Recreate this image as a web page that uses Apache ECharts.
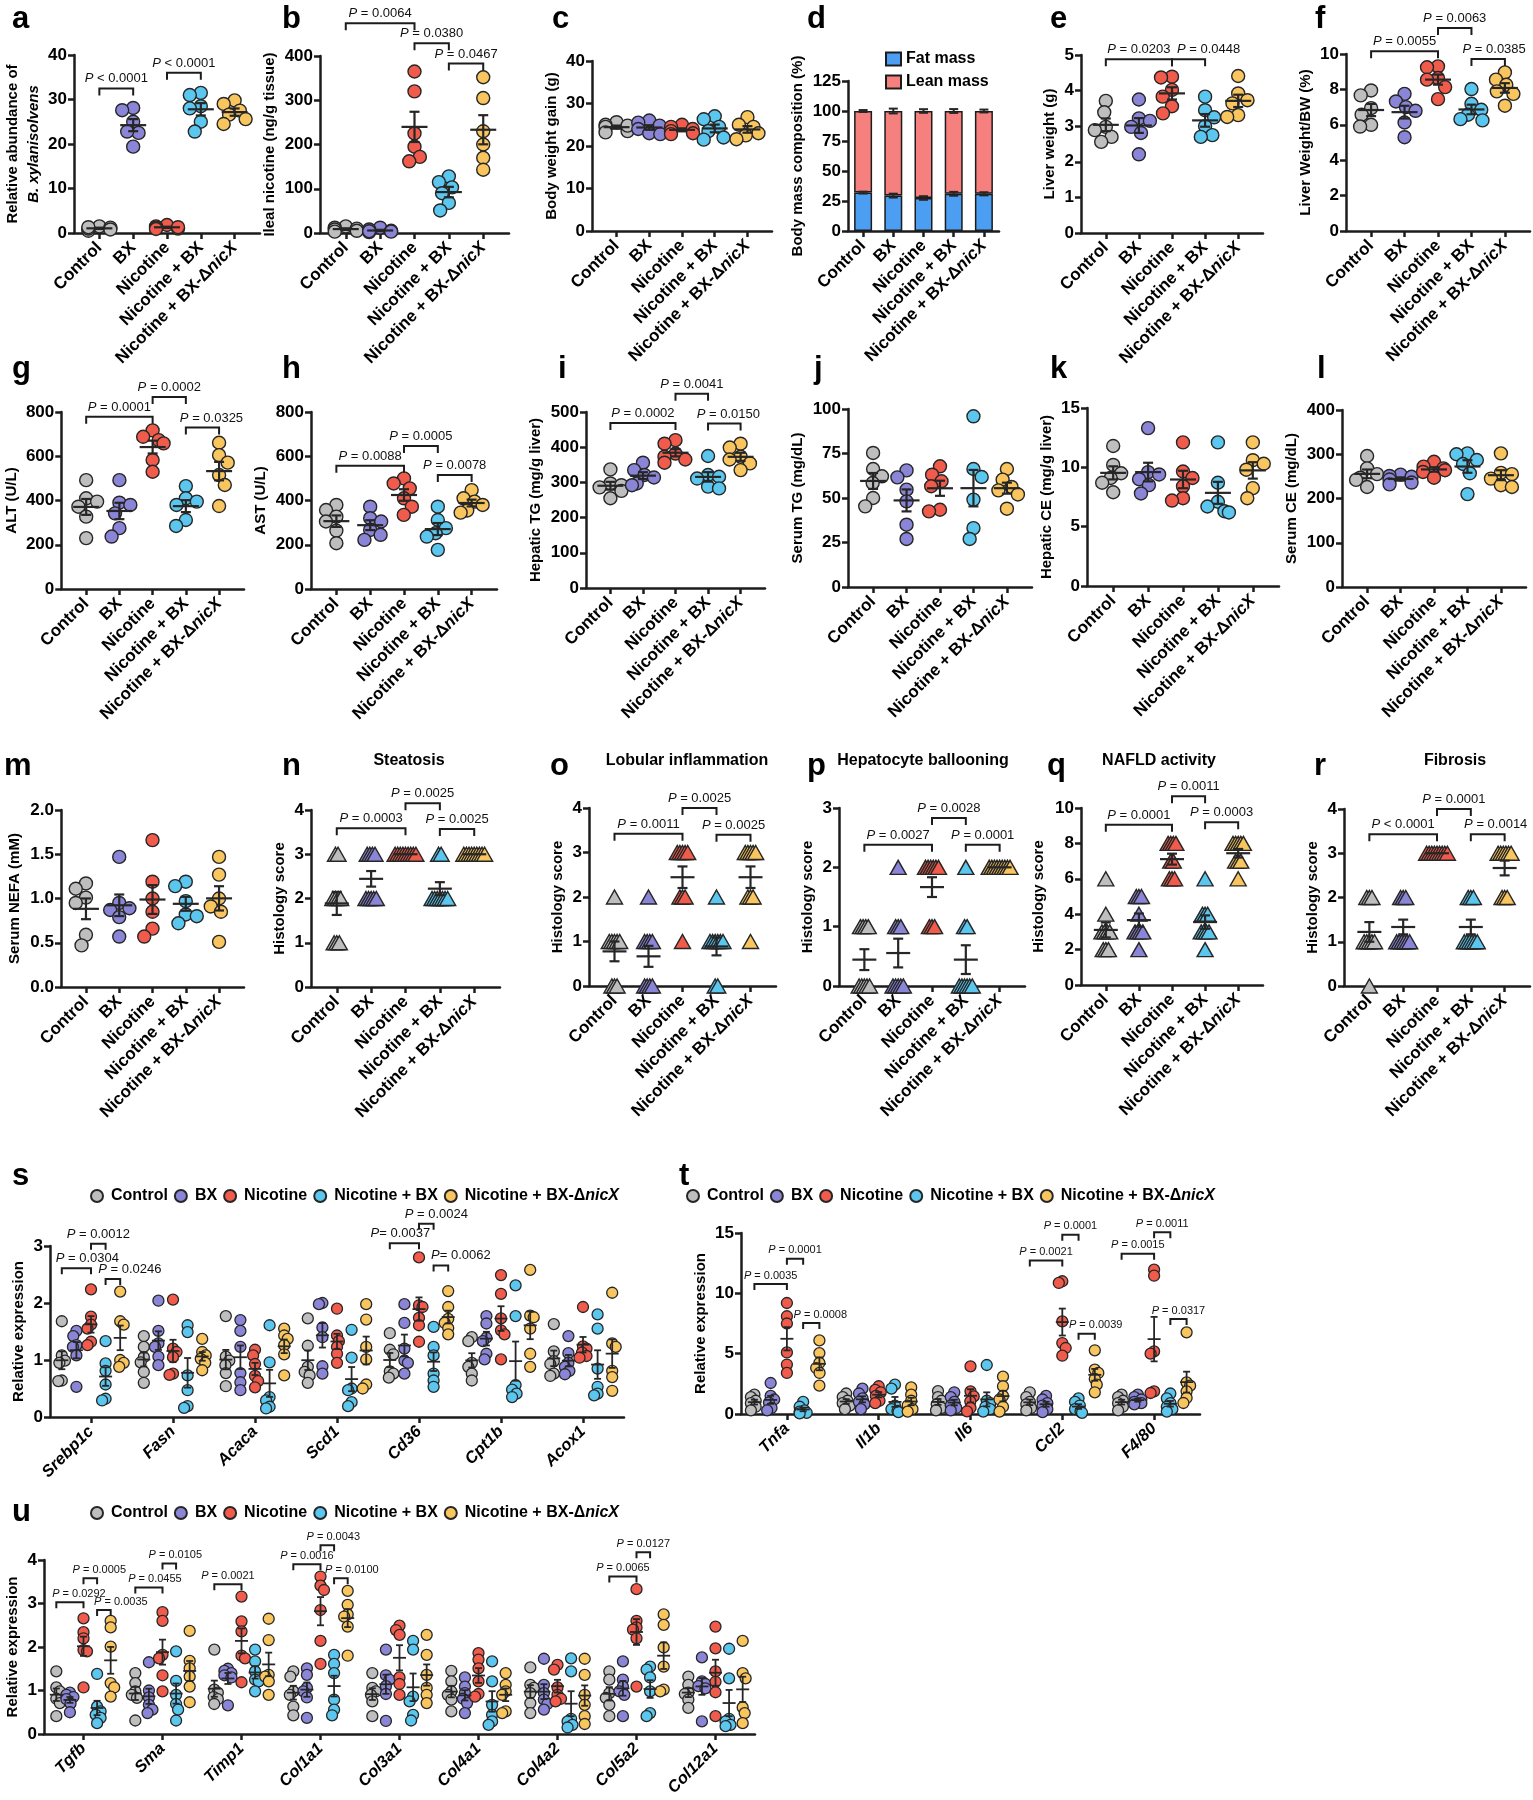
<!DOCTYPE html>
<html>
<head>
<meta charset="utf-8">
<title>Figure</title>
<script src="https://cdn.jsdelivr.net/npm/echarts@6/dist/echarts.min.js"></script>
<style>
html,body{margin:0;padding:0;background:#fff;}
#chart{width:1533px;height:1800px;}
</style>
</head>
<body>
<div id="chart"></div>
<script>
// ---------------- groups ----------------
const GROUPS = ['Control', 'BX', 'Nicotine', 'Nicotine + BX', 'Nicotine + BX-ΔnicX'];
const COLORS = ['#BEBEBE', '#8A85D6', '#F15B4C', '#5BC6EE', '#F9C55E'];

// ---------------- panel values (one inner array per group) ----------------
const abundanceBX = [
  [1.5, 1.2, 0.8, 0.5, 1.0, 1.3],
  [28.1, 27.6, 25.0, 22.5, 22.8, 19.4],
  [1.8, 1.5, 1.2, 1.0, 1.3, 0.9],
  [31.5, 31.0, 28.5, 28.0, 25.0, 22.8],
  [29.8, 29.0, 27.5, 26.6, 25.6, 24.5]
];
const ilealNicotine = [
  [15, 12, 10, 8, 5, 3],
  [12, 8, 5, 3, 2, 4],
  [365, 320, 225, 195, 172, 162],
  [128, 115, 103, 90, 68, 51],
  [352, 305, 230, 200, 170, 143]
];
const bodyWeightGain = [
  [25.6, 25.0, 24.5, 23.5, 23.2, 24.8],
  [26.0, 25.5, 24.8, 24.0, 23.0, 22.8],
  [25.0, 24.5, 24.0, 23.5, 23.0, 22.8],
  [27.0, 26.3, 24.5, 23.5, 22.0, 21.5],
  [26.8, 25.0, 24.5, 23.0, 22.5, 21.6]
];
const fatMass = [32, 29.5, 27.5, 31, 31];
const fatMassSem = [0.8, 1.6, 1.5, 1.6, 1.3];
const leanMass = [68, 70.5, 72.5, 69, 69];
const totalMassSem = [0.8, 2.0, 1.5, 1.6, 1.2];
const liverWeight = [
  [3.71, 3.39, 2.98, 2.89, 2.70, 2.56],
  [3.75, 3.22, 3.15, 2.98, 2.81, 2.21],
  [4.39, 4.37, 4.02, 3.83, 3.56, 3.36],
  [3.83, 3.45, 3.25, 3.0, 2.75, 2.70],
  [4.41, 3.92, 3.73, 3.64, 3.31, 3.26]
];
const liverWeightBW = [
  [7.94, 7.66, 6.94, 6.57, 6.0, 5.9],
  [7.75, 7.32, 7.0, 6.79, 6.13, 5.3],
  [9.3, 9.25, 8.64, 8.55, 8.13, 7.45],
  [8.02, 7.19, 6.85, 6.57, 6.32, 6.25],
  [8.96, 8.55, 8.26, 7.89, 7.75, 7.08]
];
const serumALT = [
  [492, 410, 395, 372, 327, 230],
  [492, 390, 380, 342, 275, 237],
  [717, 688, 673, 658, 583, 530],
  [465, 410, 395, 380, 312, 285],
  [661, 605, 571, 515, 470, 375]
];
const serumAST = [
  [380, 357, 327, 305, 264, 207],
  [372, 320, 305, 267, 245, 222],
  [500, 477, 455, 410, 372, 335],
  [372, 312, 275, 252, 237, 177],
  [447, 410, 395, 380, 355, 345]
];
const hepaticTG = [
  [337, 297, 292, 286, 276, 255],
  [356, 335, 321, 314, 297, 292],
  [420, 410, 382, 373, 365, 356],
  [375, 321, 316, 311, 288, 283],
  [410, 399, 373, 365, 354, 335]
];
const serumTG = [
  [75.3, 66.3, 62.2, 58.4, 50, 45.3],
  [65.5, 61.6, 54.7, 48.1, 35, 27],
  [67.8, 63.1, 59.4, 56.6, 43.4, 42.5],
  [95.9, 66.3, 61.8, 49.1, 33.1, 27],
  [66.3, 60.3, 56.2, 54.3, 52, 44]
];
const hepaticCE = [
  [11.8, 10.2, 9.5, 9.1, 8.7, 7.9],
  [13.3, 9.6, 9.4, 9.0, 8.5, 7.8],
  [12.1, 9.65, 9.1, 8.4, 7.4, 7.2],
  [12.1, 8.7, 7.1, 6.7, 6.3, 6.2],
  [12.1, 10.6, 10.3, 9.8, 8.25, 7.4]
];
const serumCE = [
  [296, 268, 255, 247, 242, 226],
  [254, 251, 249, 243, 236, 232],
  [283, 272, 268, 264, 260, 247],
  [302, 300, 287, 278, 257, 210],
  [302, 258, 255, 245, 230, 226]
];
const serumNEFA = [
  [1.17, 1.11, 1.01, 0.95, 0.59, 0.47],
  [1.47, 0.95, 0.89, 0.87, 0.79, 0.57],
  [1.66, 1.19, 1.0, 0.85, 0.66, 0.57],
  [1.19, 1.14, 0.97, 0.82, 0.80, 0.72],
  [1.47, 1.27, 1.0, 0.91, 0.85, 0.51]
];
const steatosis = [
  [3, 3, 2, 2, 2, 2, 1, 1, 1],
  [3, 3, 3, 3, 2, 2, 2, 2, 2],
  [3, 3, 3, 3, 3, 3, 3, 3, 3],
  [3, 3, 2, 2, 2, 2, 2, 2, 2],
  [3, 3, 3, 3, 3, 3, 3, 3, 3]
];
const lobularInflammation = [
  [2, 1, 1, 1, 1, 1, 0, 0, 0],
  [2, 1, 1, 1, 1, 0, 0, 0, 0],
  [3, 3, 3, 3, 3, 2, 2, 2, 1],
  [2, 1, 1, 1, 1, 1, 1, 0, 0],
  [3, 3, 3, 3, 3, 2, 2, 2, 1]
];
const ballooning = [
  [1, 1, 1, 1, 0, 0, 0, 0, 0],
  [2, 1, 1, 1, 0, 0, 0, 0, 0],
  [2, 2, 2, 2, 2, 2, 1, 1, 1],
  [2, 1, 1, 0, 0, 0, 0, 0, 0],
  [2, 2, 2, 2, 2, 2, 2, 2, 2]
];
const nafldActivity = [
  [6, 4, 3, 3, 3, 3, 2, 2, 2],
  [5, 5, 5, 4, 3, 3, 3, 3, 2],
  [8, 8, 8, 8, 7, 7, 6, 6, 6],
  [6, 4, 4, 4, 3, 3, 3, 3, 2],
  [8, 8, 8, 8, 8, 7, 7, 7, 6]
];
const fibrosis = [
  [2, 2, 2, 1, 1, 1, 1, 1, 0],
  [2, 2, 2, 1, 1, 1, 1, 1, 1],
  [3, 3, 3, 3, 3, 3, 3, 3, 3],
  [2, 2, 2, 1, 1, 1, 1, 1, 1],
  [3, 3, 3, 3, 3, 3, 2, 2, 2]
];

// ---------------- gene expression (per gene: 5 groups) ----------------
const lipidGenes = ['Srebp1c', 'Fasn', 'Acaca', 'Scd1', 'Cd36', 'Cpt1b', 'Acox1'];
const srebp1c = [[1.68,1.08,0.99,0.95,0.64,0.63],[1.51,1.42,1.26,1.23,1.08,0.53],[2.24,1.76,1.62,1.55,1.32,1.26],[1.33,0.94,0.81,0.57,0.32,0.29],[2.2,1.68,1.62,1.0,0.95,0.88]];
const fasn = [[1.42,1.23,1.05,0.96,0.79,0.6],[2.04,1.51,1.29,1.23,1.06,0.91],[2.06,1.2,1.14,1.05,0.76,0.74],[1.61,1.49,0.73,0.47,0.19,0.16],[1.37,1.14,1.08,1.02,0.95,0.82]];
const acaca = [[1.77,1.06,0.99,0.91,0.77,0.54],[1.7,1.51,1.23,0.77,0.61,0.47],[1.18,1.08,0.93,0.72,0.63,0.52],[1.61,0.96,0.35,0.29,0.18,0.15],[1.55,1.43,1.37,1.26,1.1,0.73]];
const scd1 = [[1.73,1.25,0.88,0.79,0.73,0.6],[2.0,1.98,1.57,1.4,0.89,0.76],[1.9,1.43,1.33,1.23,1.11,0.95],[1.53,1.04,0.5,0.47,0.26,0.19],[1.98,1.71,1.23,1.01,0.57,0.5]];
const cd36 = [[1.47,1.18,1.1,0.8,0.76,0.69],[1.98,1.65,1.2,0.99,0.95,0.76],[2.8,1.96,1.93,1.74,1.61,1.32],[1.58,1.23,1.08,0.76,0.64,0.53],[2.21,1.93,1.72,1.65,1.56,1.45]];
const cpt1b = [[1.4,1.33,0.95,0.88,0.76,0.64],[1.77,1.64,1.39,1.33,1.11,1.01],[2.49,2.16,1.73,1.52,1.45,1.01],[2.31,1.77,0.56,0.48,0.41,0.35],[2.58,1.78,1.75,1.55,1.11,0.88]];
const acox1 = [[1.63,1.15,0.98,0.93,0.76,0.72],[1.42,1.12,0.95,0.88,0.81,0.75],[1.93,1.24,1.2,1.13,1.07,1.04],[1.8,1.55,0.85,0.53,0.41,0.38],[2.18,1.29,1.23,0.81,0.7,0.46]];

const inflamGenes = ['Tnfa', 'Il1b', 'Il6', 'Ccl2', 'F4/80'];
const tnfa = [[1.6,1.4,1.1,0.9,0.6,0.3],[2.57,1.5,1.2,0.95,0.5,0.3],[9.2,8.1,7.5,5.1,4.1,3.4],[1.0,0.6,0.3,0.2,0.1,0.05],[6.1,5.05,4.23,3.81,3.4,2.35]];
const il1b = [[1.7,1.4,1.1,0.9,0.7,0.4],[2.1,1.7,1.3,1.0,0.8,0.4],[2.3,2.0,1.8,1.5,1.1,0.9],[2.43,2.1,0.7,0.4,0.25,0.15],[2.2,1.6,1.1,0.7,0.4,0.2]];
const il6 = [[1.9,1.4,1.1,0.8,0.5,0.3],[1.8,1.4,1.0,0.7,0.5,0.3],[3.95,1.88,1.46,1.05,0.5,0.22],[4.06,1.1,0.9,0.6,0.4,0.2],[3.1,2.3,1.5,1.2,0.6,0.2]];
const ccl2 = [[1.8,1.4,1.0,0.8,0.5,0.3],[1.5,1.2,0.9,0.7,0.4,0.15],[11.0,10.86,7.68,5.88,5.47,4.83],[1.3,1.0,0.7,0.4,0.2,0.1],[5.28,3.67,3.4,2.9,2.43,1.8]];
const f480 = [[1.6,1.4,1.1,0.9,0.6,0.3],[1.6,1.4,1.2,1.0,0.9,0.8],[11.96,11.46,5.19,5.0,1.88,1.74],[1.7,1.3,0.9,0.6,0.4,0.2],[6.77,2.62,2.35,1.88,1.33,0.91]];

const fibroGenes = ['Tgfb', 'Sma', 'Timp1', 'Col1a1', 'Col3a1', 'Col4a1', 'Col4a2', 'Col5a2', 'Col12a1'];
const tgfb = [[1.44,1.07,0.98,0.81,0.71,0.41],[0.95,0.9,0.85,0.8,0.7,0.5],[2.66,2.34,2.2,1.93,1.9,1.07],[1.38,0.63,0.52,0.44,0.37,0.25],[2.6,2.45,2.01,1.17,1.07,0.86]];
const sma = [[1.4,1.17,0.98,0.9,0.83,0.31],[1.65,1.0,0.84,0.67,0.56,0.48],[2.8,2.6,1.82,1.74,1.35,0.98],[1.9,1.22,0.9,0.69,0.56,0.31],[2.37,1.68,1.51,1.32,1.09,0.73]];
const timp1 = [[1.94,1.02,0.95,0.85,0.8,0.69],[1.5,1.45,1.4,1.35,1.3,0.66],[3.16,2.59,2.36,1.8,1.74,1.19],[1.94,1.67,1.44,1.25,1.21,0.98],[2.65,2.16,1.36,1.32,1.21,0.9]];
const col1a1 = [[1.44,1.32,0.98,0.9,0.63,0.43],[1.51,1.36,1.06,0.98,0.84,0.37],[3.62,3.41,3.31,2.85,2.14,1.61],[1.82,1.61,1.4,0.79,0.56,0.43],[3.29,2.97,2.75,2.7,2.47,1.8]];
const col3a1 = [[1.4,1.06,0.98,0.9,0.75,0.41],[1.94,1.35,1.25,1.1,0.92,0.3],[2.49,2.39,2.28,1.3,1.15,0.9],[2.14,1.94,0.86,0.75,0.44,0.31],[2.28,1.82,1.36,1.06,0.9,0.71]];
const col4a1 = [[1.45,1.21,0.98,0.9,0.79,0.52],[1.3,1.09,0.94,0.81,0.71,0.48],[1.86,1.71,1.51,1.21,0.92,0.86],[1.67,1.21,0.67,0.44,0.29,0.21],[1.4,1.13,0.98,0.9,0.52,0.48]];
const col4a2 = [[1.53,1.13,1.06,0.94,0.71,0.48],[1.73,1.13,0.94,0.79,0.69,0.56],[1.59,1.48,1.07,0.9,0.81,0.75],[1.74,1.44,0.35,0.29,0.21,0.15],[1.73,1.36,0.9,0.67,0.41,0.23]];
const col5a2 = [[1.44,1.25,0.94,0.83,0.67,0.41],[1.67,1.25,1.09,0.98,0.9,0.41],[3.33,2.6,2.45,2.4,2.2,1.09],[1.55,1.48,1.3,0.98,0.48,0.41],[2.75,2.51,1.99,1.55,1.02,0.98]];
const col12a1 = [[1.32,1.13,0.95,0.92,0.79,0.6],[1.76,1.21,1.15,1.1,1.05,0.29],[2.47,1.97,1.44,1.2,0.96,0.41],[1.96,1.28,0.35,0.29,0.21,0.18],[2.14,1.4,1.28,0.61,0.48,0.25]];

// ---------------- P-value brackets: [groupA, groupB, y, text, textShift] ----------------
const pA = [[0,1,32.5,' < 0.0001',0],[2,3,36.0,' < 0.0001',0]];
const pB = [[0,2,474,' = 0.0064',0],[2,3,428.7,' = 0.0380',0],[3,4,383,' = 0.0467',0]];
const pE = [[0,2,4.88,' = 0.0203',0],[2,3,4.88,' = 0.0448',20]];
const pF = [[0,2,10.15,' = 0.0055',0],[2,3,11.47,' = 0.0063',0],[3,4,9.72,' = 0.0385',6]];
const pG = [[0,2,778,' = 0.0001',0],[2,3,868,' = 0.0002',0],[3,4,730,' = 0.0325',9]];
const pH = [[0,2,557,' = 0.0088',0],[2,3,646,' = 0.0005',0],[3,4,515,' = 0.0078',0]];
const pI = [[0,2,469,' = 0.0002',0],[2,3,552,' = 0.0041',0],[3,4,467,' = 0.0150',4]];
const pN = [[0,2,3.59,' = 0.0003',0],[2,3,4.15,' = 0.0025',0],[3,4,3.57,' = 0.0025',0]];
const pO = [[0,2,3.42,' = 0.0011',0],[2,3,4.0,' = 0.0025',0],[3,4,3.4,' = 0.0025',0]];
const pP = [[0,2,2.38,' = 0.0027',0],[2,3,2.83,' = 0.0028',0],[3,4,2.38,' = 0.0001',0]];
const pQ = [[0,2,9.06,' = 0.0001',0],[2,3,10.66,' = 0.0011',0],[3,4,9.2,' = 0.0003',0]];
const pR = [[0,2,3.43,' < 0.0001',0],[2,3,4.0,' = 0.0001',0],[3,4,3.43,' = 0.0014',8]];
// gene panels: [gene, groupA, groupB, y, text, textShift]
const pS = [[0,0,2,2.61,' = 0.0304',11],[0,2,3,3.04,' = 0.0012',0],[0,3,4,2.42,' = 0.0246',17],[4,0,2,3.05,'= 0.0037',-4],[4,2,3,3.39,' = 0.0024',10],[4,3,4,2.66,'= 0.0062',20]];
const pT = [[0,0,2,10.77,' = 0.0035',0],[0,2,3,12.87,' = 0.0001',0],[0,3,4,7.54,' = 0.0008',9],[3,0,2,12.73,' = 0.0021',0],[3,2,3,14.86,' = 0.0001',0],[3,3,4,6.66,' = 0.0039',9],[4,0,2,13.29,' = 0.0015',0],[4,2,3,15.06,' = 0.0011',0],[4,3,4,7.87,' = 0.0317',0]];
const pU = [[0,0,2,3.03,' = 0.0292',9],[0,2,3,3.58,' = 0.0005',9],[0,3,4,2.85,' = 0.0035',17],[1,0,2,3.37,' = 0.0455',6],[1,2,3,3.92,' = 0.0105',6],[2,0,2,3.44,' = 0.0021',0],[3,0,2,3.9,' = 0.0016',0],[3,2,3,4.34,' = 0.0043',6],[3,3,4,3.58,' = 0.0100',11],[7,0,2,3.62,' = 0.0065',0],[7,2,3,4.18,' = 0.0127',0]];

// ---------------- layout (plot areas: left, top, width, height) ----------------
const LAYOUT = {
  a:[74,55,186,178], b:[320,56,189,177], c:[592,61,180,170], d:[848,81,151,150], e:[1081,55,182,178], f:[1346,54,184,177],
  g:[60,412,184,177], h:[311,412,186,177], i:[586,412,179,176], j:[848,409,184,178], k:[1087,408,192,178], l:[1342,410,184,177],
  m:[61,810,183,177], n:[311,810,189,177], o:[589,808,187,178], p:[839,808,186,178], q:[1081,808,182,177], r:[1344,809,186,177],
  s:[50,1246,574,171], t:[741,1233,459,181], u:[44,1560,711,174]
};
const LETTERS = [['a',12,19],['b',282,19],['c',552,19],['d',807,19],['e',1050,19],['f',1315,19],
  ['g',12,369],['h',282,369],['i',558,369],['j',814,369],['k',1050,369],['l',1317,369],
  ['m',4,766],['n',282,766],['o',550,766],['p',807,766],['q',1047,766],['r',1314,766],
  ['s',12,1176],['t',679,1176],['u',12,1512]];
const TITLES = [['Steatosis',409,761],['Lobular inflammation',687,761],['Hepatocyte ballooning',923,761],['NAFLD activity',1159,761],['Fibrosis',1455,761]];

// ---------------- helpers ----------------
const FA = "'Liberation Sans',Arial,Helvetica,sans-serif";
const INK = '#1c1c1c';

function meanOf(a){ return a.reduce((s,v)=>s+v,0)/a.length; }
function semOf(a){ const m=meanOf(a); const v=a.reduce((s,x)=>s+(x-m)*(x-m),0)/(a.length-1); return Math.sqrt(v/a.length); }

function swarm(vals, pxY, d, maxOff){
  const order = vals.map((v,i)=>i).sort((a,b)=>vals[b]-vals[a]);
  const placed = [], off = new Array(vals.length).fill(0);
  order.forEach((i,n)=>{
    const y = vals[i]*pxY;
    const cands = [0];
    placed.forEach(p=>{ const dy=Math.abs(p.y-y); if(dy<d){ const w=Math.sqrt(d*d-dy*dy); cands.push(p.x+w, p.x-w); } });
    cands.sort((a,b)=>(Math.abs(a)-Math.abs(b)) || (n%2 ? a-b : b-a));
    let best = null;
    for (const c of cands){ if (placed.every(p=>(p.x-c)*(p.x-c)+(p.y-y)*(p.y-y) >= d*d-0.01)) { best=c; break; } }
    if (best === null) best = cands[0];
    best = Math.max(-maxOff, Math.min(maxOff, best));
    off[i] = best; placed.push({x:best, y});
  });
  return off;
}
function stackOffsets(vals, step){
  const counts = {}, seen = {};
  vals.forEach(v=>counts[v]=(counts[v]||0)+1);
  return vals.map(v=>{ const k=seen[v]||0; seen[v]=k+1; return (k-(counts[v]-1)/2)*step; });
}

const option = {animation:false, backgroundColor:'#ffffff', grid:[], xAxis:[], yAxis:[], series:[], legend:[], graphic:{elements:[]}};

function axisLine(){ return {show:true, onZero:false, lineStyle:{color:INK, width:2.5}}; }

function yAxisFor(gridIndex, max, iv, name, gap, fmt){
  return {
    gridIndex, type:'value', min:0, max, interval:iv,
    axisLine:axisLine(),
    axisTick:{show:true, length:6, lineStyle:{color:INK, width:2.5}},
    axisLabel:{show:true, margin:7, fontFamily:FA, fontSize:17, fontWeight:'bold', color:'#000', formatter: fmt || (v=>String(v))},
    splitLine:{show:false},
    name, nameLocation:'middle', nameGap:gap, nameRotate:90,
    nameTextStyle:{fontFamily:FA, fontSize:15, fontWeight:'bold', color:'#000', lineHeight:21,
      rich:{i:{fontFamily:FA, fontSize:15, fontWeight:'bold', fontStyle:'italic', color:'#000', lineHeight:21}}}
  };
}

const LABEL_RICH = {
  n:{fontFamily:FA, fontSize:17, fontWeight:'bold', color:'#000'},
  i:{fontFamily:FA, fontSize:17, fontWeight:'bold', fontStyle:'italic', color:'#000'},
  g:{fontFamily:FA, fontSize:16.5, fontWeight:'bold', fontStyle:'italic', color:'#000'}
};
function groupLabel(nm){
  return nm === 'Nicotine + BX-ΔnicX' ? '{n|Nicotine + BX-Δ}{i|nicX}' : '{n|'+nm+'}';
}
function catLabel(formatter, values){
  return {show:true, customValues:values, interval:0, formatter, rotate:45, margin:12, fontFamily:FA, fontSize:17, fontWeight:'bold', color:'#000', rich:LABEL_RICH};
}

function meanSeries(xi, yi, items, hw, cw, lw){
  return {type:'custom', xAxisIndex:xi, yAxisIndex:yi, silent:true, z:5, clip:false,
    data:items, encode:{x:0, y:1},
    renderItem(params, api){
      const x=api.value(0), m=api.value(1), s=api.value(2);
      const c=api.coord([x,m]), t=api.coord([x,m+s]), b=api.coord([x,m-s]);
      const st={stroke:'#262626', lineWidth:lw};
      const ch=[];
      if (hw>0) ch.push({type:'line', shape:{x1:c[0]-hw,y1:c[1],x2:c[0]+hw,y2:c[1]}, style:st});
      if (s>0){
        ch.push({type:'line', shape:{x1:t[0],y1:t[1],x2:b[0],y2:b[1]}, style:st});
        ch.push({type:'line', shape:{x1:t[0]-cw,y1:t[1],x2:t[0]+cw,y2:t[1]}, style:st});
        ch.push({type:'line', shape:{x1:b[0]-cw,y1:b[1],x2:b[0]+cw,y2:b[1]}, style:st});
      }
      return {type:'group', children:ch};
    }};
}

function bracketSeries(xi, yi, list, leg, fs, lw){
  return {type:'custom', xAxisIndex:xi, yAxisIndex:yi, silent:true, z:6, clip:false,
    data:list.map(b=>[(b.x1+b.x2)/2, b.y]), encode:{x:0, y:1},
    renderItem(params, api){
      const b=list[params.dataIndex];
      const p1=api.coord([b.x1,b.y]), p2=api.coord([b.x2,b.y]);
      return {type:'group', children:[
        {type:'polyline', shape:{points:[[p1[0],p1[1]+leg],[p1[0],p1[1]],[p2[0],p2[1]],[p2[0],p2[1]+leg]]}, style:{stroke:INK, lineWidth:lw, fill:'none'}},
        {type:'text', x:(p1[0]+p2[0])/2+b.dx, y:p1[1]-3, style:{
          text:'{p|P}{v|'+b.t+'}', align:'center', verticalAlign:'bottom', textAlign:'center', textVerticalAlign:'bottom',
          fill:'#111', fontSize:fs, fontFamily:FA,
          rich:{p:{fontStyle:'italic', fontSize:fs, fontFamily:FA, fill:'#111'}, v:{fontSize:fs, fontFamily:FA, fill:'#111'}}}}
      ]};
    }};
}

// ---------------- dot-plot panels ----------------
function addDotPanel(key, data, max, iv, name, gap, brs, tri, fmt){
  const [L,T,W,H] = LAYOUT[key];
  const gridIndex = option.grid.length;
  option.grid.push({left:L, top:T, width:W, height:H});
  option.xAxis.push({gridIndex, type:'value', min:-0.75, max:4.75,
    axisLine:axisLine(),
    axisTick:{show:true, length:6, customValues:[0,1,2,3,4], lineStyle:{color:INK, width:2.5}},
    axisLabel:catLabel(v=>groupLabel(GROUPS[Math.round(v)]||''), [0,1,2,3,4]),
    splitLine:{show:false}});
  const xi = option.xAxis.length-1;
  option.yAxis.push(yAxisFor(gridIndex, max, iv, name, gap, fmt));
  const yi = option.yAxis.length-1;
  const pxX = W/5.5, pxY = H/max;
  const items = [];
  data.forEach((vals,g)=>{
    const off = tri ? stackOffsets(vals, 2.6) : swarm(vals, pxY, 11.5, 11);
    option.series.push({type:'scatter', name:GROUPS[g], xAxisIndex:xi, yAxisIndex:yi, silent:true, clip:false, z:3,
      data:vals.map((v,k)=>[g+off[k]/pxX, v]),
      symbol: tri ? 'triangle' : 'circle', symbolSize: tri ? [16,14] : 13,
      itemStyle:{color:COLORS[g], borderColor:'#262626', borderWidth:1.4, opacity:1}});
    items.push([g, meanOf(vals), semOf(vals)]);
  });
  option.series.push(meanSeries(xi, yi, items, tri?12:13, 5, 2.2));
  if (brs) option.series.push(bracketSeries(xi, yi, brs.map(b=>({x1:b[0], x2:b[1], y:b[2], t:b[3], dx:b[4]})), 7, 13, 2));
}

// ---------------- stacked bar panel d ----------------
function addBarPanel(){
  const [L,T,W,H] = LAYOUT.d;
  const gridIndex = option.grid.length;
  option.grid.push({left:L, top:T, width:W, height:H});
  option.xAxis.push({gridIndex, type:'category', data:GROUPS, boundaryGap:true,
    axisLine:axisLine(),
    axisTick:{show:true, length:6, alignWithLabel:true, interval:0, lineStyle:{color:INK, width:2.5}},
    axisLabel:catLabel(v=>groupLabel(v), undefined),
    splitLine:{show:false}});
  const xi = option.xAxis.length-1;
  option.yAxis.push(yAxisFor(gridIndex, 125, 25, 'Body mass composition (%)', 37));
  const yi = option.yAxis.length-1;
  const barStyle = c => ({color:c, borderColor:INK, borderWidth:1.5});
  option.series.push({type:'bar', name:'Fat mass', stack:'mass', xAxisIndex:xi, yAxisIndex:yi, data:fatMass, barWidth:18, itemStyle:barStyle('#4C9EF2'), silent:true, z:2});
  option.series.push({type:'bar', name:'Lean mass', stack:'mass', xAxisIndex:xi, yAxisIndex:yi, data:leanMass, barWidth:18, itemStyle:barStyle('#F6807E'), silent:true, z:2});
  option.series.push(meanSeries(xi, yi, fatMass.map((v,i)=>[i, v, fatMassSem[i]]), 0, 4.5, 2));
  option.series.push(meanSeries(xi, yi, leanMass.map((v,i)=>[i, v+fatMass[i], totalMassSem[i]]), 0, 4.5, 2));
  option.legend.push({data:['Fat mass','Lean mass'], orient:'vertical', left:885, top:51, itemWidth:15, itemHeight:13, itemGap:7, padding:0,
    selectedMode:false, icon:'rect', textStyle:{fontFamily:FA, fontSize:16, fontWeight:'bold', color:'#000'}});
}

// ---------------- gene expression panels ----------------
function addGenePanel(key, genes, geneData, max, iv, gap, grpOff, brs, pfs, legendPos){
  const [L,T,W,H] = LAYOUT[key];
  const n = genes.length;
  const gridIndex = option.grid.length;
  option.grid.push({left:L, top:T, width:W, height:H});
  const vals = genes.map((g,i)=>i);
  option.xAxis.push({gridIndex, type:'value', min:-0.5, max:n-0.5,
    axisLine:axisLine(),
    axisTick:{show:true, length:6, customValues:vals, lineStyle:{color:INK, width:2.5}},
    axisLabel:catLabel(v=>'{g|'+(genes[Math.round(v)]||'')+'}', vals),
    splitLine:{show:false}});
  const xi = option.xAxis.length-1;
  option.yAxis.push(yAxisFor(gridIndex, max, iv, 'Relative expression', gap));
  const yi = option.yAxis.length-1;
  const pxX = W/n, pxY = H/max;
  const items = [];
  for (let g=0; g<5; g++){
    const pts = [];
    geneData.forEach((gd,j)=>{
      const v = gd[g];
      const off = swarm(v, pxY, 6, 3.5);
      v.forEach((y,k)=>pts.push([j+(g-2)*grpOff+off[k]/pxX, y]));
      items.push([j+(g-2)*grpOff, meanOf(v), semOf(v)]);
    });
    option.series.push({type:'scatter', name:GROUPS[g], xAxisIndex:xi, yAxisIndex:yi, silent:true, clip:false, z:3,
      data:pts, symbol:'circle', symbolSize:11,
      itemStyle:{color:COLORS[g], borderColor:'#262626', borderWidth:1.3, opacity:1}});
  }
  option.series.push(meanSeries(xi, yi, items, 6.5, 3.5, 1.8));
  option.series.push(bracketSeries(xi, yi, brs.map(b=>({x1:b[0]+(b[1]-2)*grpOff, x2:b[0]+(b[2]-2)*grpOff, y:b[3], t:b[4], dx:b[5]})), 6, pfs, 2));
  option.legend.push({data:GROUPS.slice(), left:legendPos[0], top:legendPos[1], icon:'circle', itemWidth:12, itemHeight:12, itemGap:6, padding:0,
    selectedMode:false,
    formatter: nm => nm === 'Nicotine + BX-ΔnicX' ? '{a|Nicotine + BX-Δ}{b|nicX}' : '{a|'+nm+'}',
    textStyle:{fontFamily:FA, fontSize:16, fontWeight:'bold', color:'#000',
      rich:{a:{fontFamily:FA, fontSize:16, fontWeight:'bold', color:'#000', padding:[0,0,0,3]},
            b:{fontFamily:FA, fontSize:16, fontWeight:'bold', fontStyle:'italic', color:'#000'}}}});
}

// ---------------- build ----------------
addDotPanel('a', abundanceBX, 40, 10, 'Relative abundance of\n{i|B. xylanisolvens}', 28, pA, false);
addDotPanel('b', ilealNicotine, 400, 100, 'Ileal nicotine (ng/g tissue)', 36, pB, false);
addDotPanel('c', bodyWeightGain, 40, 10, 'Body weight gain (g)', 29, null, false);
addBarPanel();
addDotPanel('e', liverWeight, 5, 1, 'Liver weight (g)', 21, pE, false);
addDotPanel('f', liverWeightBW, 10, 2, 'Liver Weight/BW (%)', 29, pF, false);
addDotPanel('g', serumALT, 800, 200, 'ALT (U/L)', 38, pG, false);
addDotPanel('h', serumAST, 800, 200, 'AST (U/L)', 38, pH, false);
addDotPanel('i', hepaticTG, 500, 100, 'Hepatic TG (mg/g liver)', 38, pI, false);
addDotPanel('j', serumTG, 100, 25, 'Serum TG (mg/dL)', 38, null, false);
addDotPanel('k', hepaticCE, 15, 5, 'Hepatic CE (mg/g liver)', 28, null, false);
addDotPanel('l', serumCE, 400, 100, 'Serum CE (mg/dL)', 38, null, false);
addDotPanel('m', serumNEFA, 2, 0.5, 'Serum NEFA (mM)', 36, null, false, v=>v.toFixed(1));
addDotPanel('n', steatosis, 4, 1, 'Histology score', 18, pN, true);
addDotPanel('o', lobularInflammation, 4, 1, 'Histology score', 18, pO, true);
addDotPanel('p', ballooning, 3, 1, 'Histology score', 19, pP, true);
addDotPanel('q', nafldActivity, 10, 2, 'Histology score', 32, pQ, true);
addDotPanel('r', fibrosis, 4, 1, 'Histology score', 18, pR, true);
addGenePanel('s', lipidGenes, [srebp1c, fasn, acaca, scd1, cd36, cpt1b, acox1], 3, 1, 21, 0.178, pS, 13, [90, 1188]);
addGenePanel('t', inflamGenes, [tnfa, il1b, il6, ccl2, f480], 15, 5, 29, 0.177, pT, 11, [686, 1188]);
addGenePanel('u', fibroGenes, [tgfb, sma, timp1, col1a1, col3a1, col4a1, col4a2, col5a2, col12a1], 4, 1, 17, 0.172, pU, 11, [90, 1505]);

LETTERS.forEach(([t,x,y])=>option.graphic.elements.push({type:'text', x, y, silent:true,
  style:{text:t, fontSize:31, fontWeight:'bold', fontFamily:FA, fill:'#000', align:'left', verticalAlign:'middle', textAlign:'left', textVerticalAlign:'middle'}}));
TITLES.forEach(([t,x,y])=>option.graphic.elements.push({type:'text', x, y, silent:true,
  style:{text:t, fontSize:16, fontWeight:'bold', fontFamily:FA, fill:'#000', align:'center', verticalAlign:'middle', textAlign:'center', textVerticalAlign:'middle'}}));

const chart = echarts.init(document.getElementById('chart'), null, {renderer:'canvas', width:1533, height:1800});
chart.setOption(option);
</script>
</body>
</html>
